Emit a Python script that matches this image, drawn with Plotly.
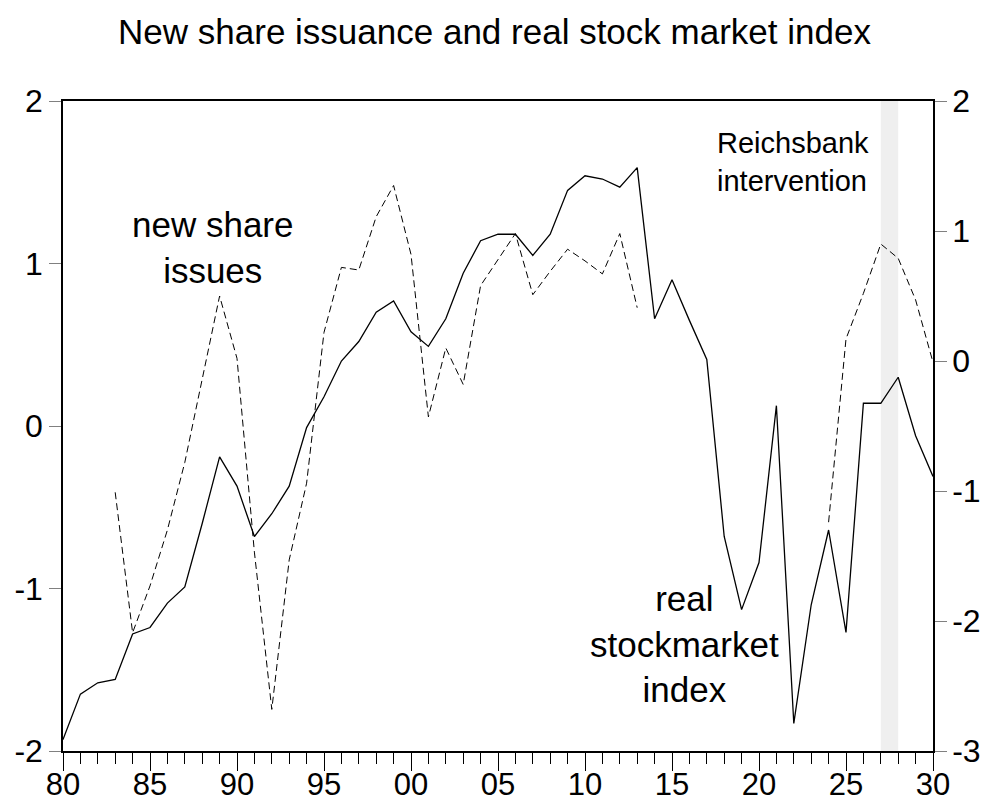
import plotly.graph_objects as go

years = list(range(1880, 1931))

# real stock market index (left axis)
stock_index = [
    -1.93, -1.65, -1.58, -1.56, -1.28, -1.24, -1.09, -0.99, -0.60, -0.19,
    -0.37, -0.68, -0.54, -0.37, -0.01, 0.18, 0.40, 0.52, 0.70, 0.77,
    0.58, 0.49, 0.66, 0.94, 1.14, 1.18, 1.18, 1.05, 1.18, 1.45,
    1.54, 1.52, 1.47, 1.59, 0.66, 0.90, 0.65, 0.41, -0.68, -1.13,
    -0.84, 0.125, -1.83, -1.10, -0.64, -1.27, 0.14, 0.14, 0.30, -0.06,
    -0.31,
]

# new share issues (right axis), gap during 1914-1923
share_issues = [
    None, None, None, -1.01, -2.09, -1.73, -1.30, -0.78, -0.14, 0.50,
    0.02, -1.47, -2.68, -1.53, -0.94, 0.22, 0.72, 0.70, 1.11, 1.35,
    0.82, -0.43, 0.10, -0.18, 0.58, 0.78, 0.98, 0.51, 0.69, 0.86,
    0.77, 0.67, 0.98, 0.41, None, None, None, None, None, None,
    None, None, None, None, -1.24, 0.17, 0.52, 0.90, 0.79, 0.47,
    -0.01,
]

major_ticks = list(range(1880, 1931, 5))
major_labels = [str(y)[2:] for y in major_ticks]
left_ticks = [-2, -1, 0, 1, 2]
left_labels = [str(v) for v in left_ticks]
right_ticks = [-3, -2, -1, 0, 1, 2]
right_labels = [str(v) for v in right_ticks]

FONT = "Liberation Sans, Arial, sans-serif"

fig = go.Figure()

# Reichsbank intervention shading
fig.add_vrect(x0=1927, x1=1928, fillcolor="#efefef", line_width=0, layer="below")

fig.add_trace(go.Scatter(
    x=years, y=stock_index, mode="lines",
    line=dict(color="black", width=1.3),
    showlegend=False,
))
fig.add_trace(go.Scatter(
    x=years, y=share_issues, mode="lines", yaxis="y2",
    line=dict(color="black", width=1, dash="7px,4px"),
    connectgaps=False, showlegend=False,
))

fig.update_layout(
    width=989, height=802,
    margin=dict(l=63, r=56, t=101, b=51),
    paper_bgcolor="white", plot_bgcolor="white",
    font=dict(family=FONT, color="black"),
    title=dict(
        text="New share issuance and real stock market index",
        font=dict(size=35, family=FONT, color="black"),
        x=0.5, xanchor="center", xref="container",
        y=1 - 32 / 802, yanchor="middle", yref="container",
    ),
    xaxis=dict(
        range=[1880, 1930], automargin=False,
        tickmode="array", tickvals=major_ticks, ticktext=major_labels,
        ticks="outside", ticklen=18, tickcolor="black", tickwidth=1,
        minor=dict(tickvals=years, ticks="outside", ticklen=11,
                   tickcolor="black", tickwidth=1, showgrid=False),
        tickfont=dict(size=31), ticklabelstandoff=-13,
        showline=True, linecolor="black", linewidth=1.5, mirror=True,
        showgrid=False, zeroline=False,
    ),
    yaxis=dict(
        range=[-2, 2], automargin=False,
        tickmode="array", tickvals=left_ticks, ticktext=left_labels,
        ticks="outside", ticklen=12, tickcolor="#808080", tickwidth=1,
        tickfont=dict(size=32),
        showline=True, linecolor="black", linewidth=1.5, mirror=True,
        showgrid=False, zeroline=False,
    ),
    yaxis2=dict(
        range=[-3, 2], overlaying="y", side="right", automargin=False,
        tickmode="array", tickvals=right_ticks, ticktext=right_labels,
        ticks="outside", ticklen=12, tickcolor="#808080", tickwidth=1,
        tickfont=dict(size=32), ticklabelstandoff=-1,
        showline=True, linecolor="black", linewidth=1.5,
        showgrid=False, zeroline=False,
    ),
)

fig.add_annotation(
    text="new share<br>issues", x=1888.6, y=1.1, xref="x", yref="y",
    showarrow=False, font=dict(size=35, family=FONT), align="center",
)
fig.add_annotation(
    text="real<br>stockmarket<br>index", x=1915.7, y=-1.34, xref="x", yref="y",
    showarrow=False, font=dict(size=35, family=FONT), align="center",
)
fig.add_annotation(
    text="Reichsbank<br>intervention", x=1921.95, y=1.625, xref="x", yref="y",
    showarrow=False, font=dict(size=29, family=FONT), align="left",
)

# drop the default page margin so the figure sits at the window's corner
fig.write_html(
    "out.html",
    config={"displayModeBar": False},
    post_script="document.body.style.margin = '0';",
)
